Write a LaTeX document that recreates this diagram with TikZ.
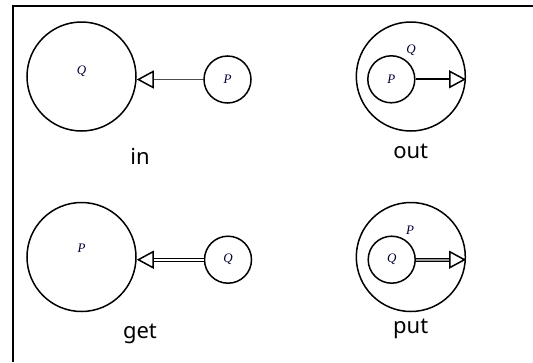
\documentclass[tikz,border=0pt]{standalone}
\usepackage{fontspec}
\setmainfont{Liberation Serif}
\newfontfamily\labelfont{Noto Sans}
\usetikzlibrary{arrows.meta}
\begin{document}
\begin{tikzpicture}[x=1pt,y=-1pt,
  ring/.style={draw,circle,line width=1.5pt,inner sep=0pt},
  big/.style={ring,minimum size=109pt},
  small/.style={ring,minimum size=47pt},
  var/.style={font=\fontsize{13}{15}\selectfont\itshape,text=black!80!blue},
  caption/.style={font=\labelfont\fontsize{22}{26}\selectfont},
  opentip/.style={-{Triangle[open,length=17pt,width=18pt,line width=1.5pt,color=black]}},
  thinarrow/.style={opentip,draw=black!70,line width=1pt},
  boldarrow/.style={opentip,line width=1.8pt},
  dblarrow/.style={opentip,double=white,double distance=2pt,line width=0.9pt},
  dblgrey/.style={opentip,double=black!40,double distance=2pt,line width=0.9pt}
]
\useasboundingbox (0,0) rectangle (533,362);
% open frame: only the left and top edges lie inside the page
\draw[line width=2pt] (12.5,362) -- (12.5,5.5) -- (533,5.5);

% in
\node[big] (inQ) at (81.5,76.5) {};
\node[var] at (81.5,71) {Q};
\node[small] (inP) at (227.5,79.5) {};
\node[var] at (227.5,79.5) {P};
\draw[thinarrow] (inP.west) -- (inQ.east |- inP.west);
\node[caption] (inL) at (140,156) {in};

% out
\node[big] (outQ) at (410.8,76.5) {};
\node[small] (outP) at (391.3,79.3) {};
\node[var] at (391.3,79.3) {P};
\node[var] at (411,50.5) {Q};
\draw[boldarrow] (outP.east) -- (outQ.east |- outP.east);
\node[caption] (outL) at (410.7,151) {out};

% get
\node[big] (getP) at (81.5,257) {};
\node[var] at (81.5,248.5) {P};
\node[small] (getQ) at (228,259.7) {};
\node[var] at (228,259.7) {Q};
\draw[dblarrow] (getQ.west) -- (getP.east |- getQ.west);
\node[caption] (getL) at (140,334) {get};

% put
\node[big] (putP) at (410.8,257) {};
\node[small] (putQ) at (391.7,259.7) {};
\node[var] at (391.7,259.7) {Q};
\node[var] at (410,230) {P};
\draw[dblgrey] (putQ.east) -- (putP.east |- putQ.east);
\node[caption] (putL) at (410.7,329) {put};
\end{tikzpicture}
\end{document}
